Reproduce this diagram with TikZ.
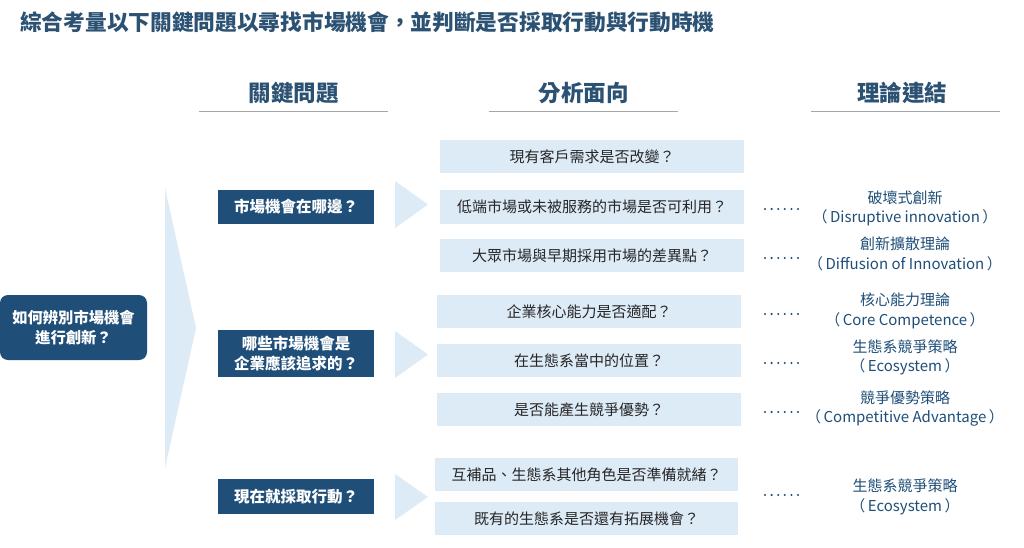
\documentclass[tikz,border=0pt]{standalone}
\usepackage{fontspec}
\setmainfont{Noto Sans CJK TC}
\usetikzlibrary{positioning}
\definecolor{navy}{HTML}{1F4E79}
\definecolor{titleblue}{HTML}{2B5173}
\definecolor{lightblue}{HTML}{DDEBF7}
\definecolor{txtgray}{HTML}{262626}
\definecolor{rulegray}{HTML}{A6A6A6}
\tikzset{
  keybox/.style={fill=navy, text=white, font=\fontsize{15.5}{20}\selectfont\bfseries, align=center, inner sep=0pt},
  anabox/.style={fill=lightblue, text=txtgray, font=\fontsize{15}{20}\selectfont, inner sep=0pt},
  theory/.style={text=navy, font=\fontsize{15}{19.5}\selectfont, align=center, inner sep=0pt},
  header/.style={text=titleblue, font=\fontsize{21.7}{24}\selectfont\bfseries, inner sep=0pt},
  colhead/.style={text=titleblue, font=\fontsize{22.5}{24}\selectfont\bfseries, inner sep=0pt},
  headrule/.style={draw=rulegray, line width=0.9pt},
  arrowshape/.style={fill=lightblue, draw=none},
  dotline/.style={draw=navy, line width=2.3pt, dash pattern=on 0pt off 6.6pt, line cap=round}
}
\begin{document}
\begin{tikzpicture}[x=1pt,y=-1pt]
\useasboundingbox (0,0) rectangle (1024,548);
\fill[white] (0,0) rectangle (1024,548);
% title
\node[header, anchor=west] (title) at (20,22) {綜合考量以下關鍵問題以尋找市場機會，並判斷是否採取行動與行動時機};
% headers
\node[colhead] (h1) at (293.5,93) {關鍵問題};
\node[colhead] (h2) at (583.5,93) {分析面向};
\node[colhead] (h3) at (902,93) {理論連結};
\draw[headrule] (199,111) -- (388,111);
\draw[headrule] (489,111) -- (678,111);
\draw[headrule] (811,111) -- (1000,111);
% big chevron
\fill[arrowshape] (165,188) -- (196,328) -- (165,468) -- cycle;
% left node
\node[fill=navy, rounded corners=8pt, text=white, font=\fontsize{15.3}{20}\selectfont\bfseries, align=center, minimum width=147pt, minimum height=65pt, inner sep=0pt] (root) at (73.5,327.5) {如何辨別市場機會\\進行創新？};
% key boxes
\node[keybox, minimum width=156pt, minimum height=34pt] (k1) at (296,207) {市場機會在哪邊？};
\node[keybox, minimum width=156pt, minimum height=47pt] (k2) at (296,353.5) {哪些市場機會是\\企業應該追求的？};
\node[keybox, minimum width=156pt, minimum height=35pt] (k3) at (296,496.5) {現在就採取行動？};
% small arrows
\fill[arrowshape] (395,181) -- (428,204.5) -- (395,228) -- cycle;
\fill[arrowshape] (395,331) -- (428,354.5) -- (395,378) -- cycle;
\fill[arrowshape] (395,474) -- (428,497) -- (395,520) -- cycle;
% analysis boxes
\node[anabox, minimum width=304pt, minimum height=33pt] (a1) at (592,156.5) {現有客戶需求是否改變？};
\node[anabox, minimum width=304pt, minimum height=34pt] (a2) at (592,207) {低端市場或未被服務的市場是否可利用？};
\node[anabox, minimum width=304pt, minimum height=33pt] (a3) at (592,255.5) {大眾市場與早期採用市場的差異點？};
\node[anabox, minimum width=304pt, minimum height=33pt] (a4) at (589,311.5) {企業核心能力是否適配？};
\node[anabox, minimum width=304pt, minimum height=33pt] (a5) at (589,360.5) {在生態系當中的位置？};
\node[anabox, minimum width=304pt, minimum height=33pt] (a6) at (589,409.5) {是否能產生競爭優勢？};
\node[anabox, minimum width=303pt, minimum height=33pt] (a7) at (586.5,474.5) {互補品、生態系其他角色是否準備就緒？};
\node[anabox, minimum width=303pt, minimum height=33pt] (a8) at (586.5,518.5) {既有的生態系是否還有拓展機會？};
% theory labels
\node[theory] (t1) at (905,208.5) {破壞式創新\\（\,Disruptive innovation\,）};
\node[theory] (t2) at (905,254) {創新擴散理論\\（\,Diffusion of Innovation\,）};
\node[theory] (t3) at (905,311) {核心能力理論\\（\,Core Competence\,）};
\node[theory] (t4) at (905,357.5) {生態系競爭策略\\（\,Ecosystem\,）};
\node[theory] (t5) at (905,408.5) {競爭優勢策略\\（\,Competitive Advantage\,）};
\node[theory] (t6) at (905,497) {生態系競爭策略\\（\,Ecosystem\,）};
% dotted leaders
\foreach \i/\y in {1/209,2/258,3/314,4/363,5/412,6/495}{
  \coordinate (ds\i) at (765,\y);
  \coordinate (de\i) at (799,\y);
  \draw[dotline] (ds\i) -- (de\i);
}
\end{tikzpicture}
\end{document}
